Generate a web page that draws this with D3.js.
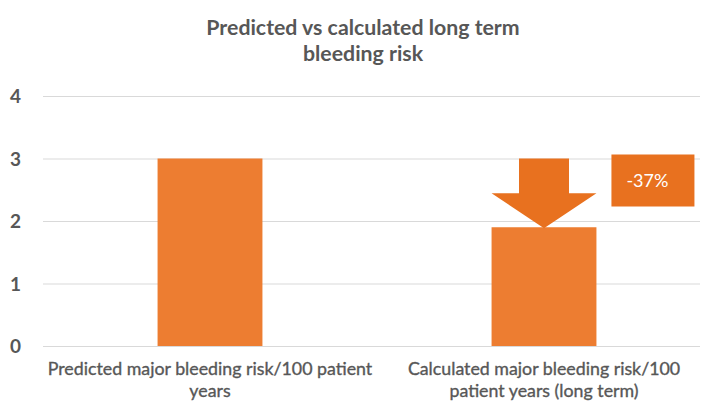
<!DOCTYPE html>
<html>
<head>
<meta charset="utf-8">
<script src="https://cdn.jsdelivr.net/npm/d3@7"></script>
<style>
  html, body { margin: 0; padding: 0; background: #fff; }
  svg { display: block; }
</style>
</head>
<body>
<svg id="chart" width="702" height="404"></svg>
<script>
// Chart data
const categories = [
  ["Predicted major bleeding risk/100 patient", "years"],
  ["Calculated major bleeding risk/100", "patient years (long term)"]
];
const values = [3, 1.9];
const yTicks = [0, 1, 2, 3, 4];
const titleLines = ["Predicted vs calculated long term", "bleeding risk"];
const changeLabel = "-37%";

(function draw() {
  const svg = d3.select("#chart");
  const W = 702;
  const font = "Lato, 'Open Sans', sans-serif";
  const textColor = "#575757";
  const barColor = "#ED7D31";
  const calloutColor = "#E8711F";

  const x = d3.scaleBand()
    .domain(d3.range(values.length))
    .range([43, 711])
    .paddingInner(0.686)
    .paddingOuter(0.343);

  const y = d3.scaleLinear().domain([0, 4]).range([346, 96]);

  // Title
  svg.append("g").selectAll("text")
    .data(titleLines)
    .join("text")
    .attr("x", 363)
    .attr("y", (d, i) => 35 + i * 26)
    .attr("text-anchor", "middle")
    .attr("font-family", font)
    .attr("font-weight", "bold")
    .attr("font-size", 21.3)
    .attr("fill", textColor)
    .text(d => d);

  // Gridlines
  svg.append("g").selectAll("line")
    .data(yTicks)
    .join("line")
    .attr("x1", 43).attr("x2", W - 2)
    .attr("y1", d => y(d) + 0.5).attr("y2", d => y(d) + 0.5)
    .attr("stroke", "#D9D9D9")
    .attr("stroke-width", 1);

  // Y axis labels
  const yAxis = d3.axisLeft(y).tickValues(yTicks).tickFormat(d3.format("d"))
    .tickSize(0).tickPadding(0);
  const gy = svg.append("g").attr("transform", "translate(21,0)").call(yAxis);
  gy.select(".domain").remove();
  gy.selectAll("text")
    .attr("font-family", font)
    .attr("font-weight", "bold")
    .attr("font-size", 19)
    .attr("fill", textColor)
    .attr("dy", "0.35em");

  // Bars
  svg.append("g").selectAll("rect")
    .data(values)
    .join("rect")
    .attr("x", (d, i) => x(i))
    .attr("y", d => y(d))
    .attr("width", x.bandwidth())
    .attr("height", d => y(0) - y(d))
    .attr("fill", barColor);

  // Category labels
  const cat = svg.append("g").selectAll("text")
    .data(categories)
    .join("text")
    .attr("text-anchor", "middle")
    .attr("font-family", font)
    .attr("font-size", 17.8)
    .attr("fill", textColor)
    .attr("stroke", textColor)
    .attr("stroke-width", 0.35);
  cat.selectAll("tspan")
    .data((d, i) => d.map(line => ({ line, i })))
    .join("tspan")
    .attr("x", d => x(d.i) + x.bandwidth() / 2)
    .attr("y", (d, j) => 375 + j * 22)
    .text(d => d.line);

  // Down arrow showing the drop from the predicted to the calculated value
  const cx = x(1) + x.bandwidth() / 2;
  const shaftHalf = 25;
  const headHalf = x.bandwidth() / 2;
  const arrowTop = y(values[0]);
  const tip = y(values[1]) + 1;
  const headTop = tip - 35;
  svg.append("path")
    .attr("d", d3.line()([
      [cx - shaftHalf, arrowTop],
      [cx + shaftHalf, arrowTop],
      [cx + shaftHalf, headTop],
      [cx + headHalf, headTop],
      [cx, tip],
      [cx - headHalf, headTop],
      [cx - shaftHalf, headTop]
    ]) + "Z")
    .attr("fill", calloutColor);

  // Percentage change callout
  const boxX = x(1) + x.bandwidth() + 15;
  const boxY = arrowTop - 4;
  svg.append("rect")
    .attr("x", boxX).attr("y", boxY)
    .attr("width", 83).attr("height", 52)
    .attr("fill", calloutColor);
  svg.append("text")
    .attr("x", boxX + 36).attr("y", boxY + 26)
    .attr("dy", "0.35em")
    .attr("text-anchor", "middle")
    .attr("font-family", font)
    .attr("font-size", 18)
    .attr("fill", "#fff")
    .text(changeLabel);
})();
</script>
</body>
</html>
